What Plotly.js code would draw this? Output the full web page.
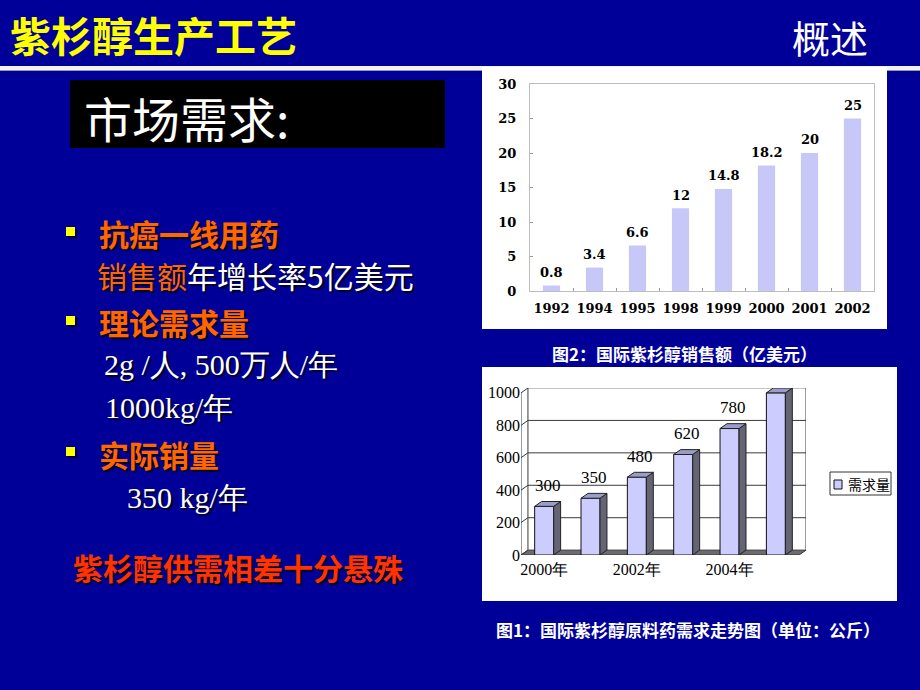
<!DOCTYPE html>
<html>
<head>
<meta charset="utf-8">
<script src="https://cdn.plot.ly/plotly-3.0.1.min.js"></script>
<style>html,body{margin:0;padding:0;background:#000099;}#chart{width:920px;height:690px;}</style>
</head>
<body>
<div id="chart"></div>
<script>
// ---- data ----
const salesYears = ['1992','1994','1995','1998','1999','2000','2001','2002'];
const salesValues = [0.8, 3.4, 6.6, 12, 14.8, 18.2, 20, 25];
const salesTicks = [0, 5, 10, 15, 20, 25, 30];
const demandYears = ['2000年','2001年','2002年','2003年','2004年','2005年'];
const demandValues = [300, 350, 480, 620, 780, 1000];
const demandTicks = [0, 200, 400, 600, 800, 1000];
const demandName = '需求量';

// ---- layout helpers ----
const W = 920, H = 690;
const px = x => x / W;
const py = y => 1 - y / H;
const CJK = 'Noto Sans CJK SC';
const SERIF = 'Liberation Serif';

// 3D depth (data units on chart 2)
const dx = 0.15, dy = 30, bw = 0.41;
const idx = demandYears.map((_, i) => i);
const xMin = -0.5, xMax = demandYears.length - 0.5;
const yTop = demandTicks[demandTicks.length - 1];

// side and top faces of the 3D bars
const sideX = [], sideY = [], topX = [], topY = [];
idx.forEach((i, k) => {
  const v = demandValues[k];
  const r = i + bw / 2, l = i - bw / 2;
  sideX.push(r, r + dx, r + dx, r, r, null);
  sideY.push(0, dy, v + dy, v, 0, null);
  topX.push(l, r, r + dx, l + dx, l, null);
  topY.push(v, v, v + dy, v + dy, v, null);
});

const traces = [
  {
    type: 'bar', x: salesYears, y: salesValues, xaxis: 'x', yaxis: 'y',
    width: 0.4, marker: {color: '#c8c8f8'}, showlegend: false,
    hovertemplate: '%{x}: %{y}<extra></extra>'
  },
  {
    type: 'bar', name: demandName, x: idx, y: demandValues, xaxis: 'x2', yaxis: 'y2',
    width: bw, marker: {color: '#ccccff', line: {color: '#111', width: 1}}, showlegend: false,
    customdata: demandYears, hovertemplate: '%{customdata}: %{y}<extra></extra>'
  },
  {
    type: 'scatter', mode: 'lines', x: sideX, y: sideY, xaxis: 'x2', yaxis: 'y2',
    fill: 'toself', fillcolor: '#646474', line: {color: '#222', width: 1},
    showlegend: false, hoverinfo: 'skip'
  },
  {
    type: 'scatter', mode: 'lines', x: topX, y: topY, xaxis: 'x2', yaxis: 'y2',
    fill: 'toself', fillcolor: '#9c9cc8', line: {color: '#222', width: 1},
    showlegend: false, hoverinfo: 'skip'
  }
];

// ---- shapes ----
const shapes = [
  // header band
  {type: 'rect', xref: 'paper', yref: 'paper', x0: 0, x1: 1, y0: py(66), y1: py(71), fillcolor: '#f2f2f2', line: {width: 0}, layer: 'below'},
  {type: 'line', xref: 'paper', yref: 'paper', x0: 0, x1: 1, y0: py(70.5), y1: py(70.5), line: {color: '#9a9ab8', width: 1}, layer: 'below'},
  // black title box
  {type: 'rect', xref: 'paper', yref: 'paper', x0: px(70), x1: px(445), y0: py(80), y1: py(148), fillcolor: '#000000', line: {width: 0}, layer: 'below'},
  // chart boxes
  {type: 'rect', xref: 'paper', yref: 'paper', x0: px(482), x1: px(887), y0: py(67), y1: py(329), fillcolor: '#ffffff', line: {width: 0}, layer: 'below'},
  {type: 'rect', xref: 'paper', yref: 'paper', x0: px(482), x1: px(897), y0: py(367), y1: py(601), fillcolor: '#ffffff', line: {width: 0}, layer: 'below'},
  // legend (chart 2)
  {type: 'rect', xref: 'paper', yref: 'paper', x0: px(830), x1: px(891), y0: py(472), y1: py(495), fillcolor: '#ffffff', line: {color: '#333', width: 1}},
  {type: 'rect', xref: 'paper', yref: 'paper', x0: px(834), x1: px(842), y0: py(480), y1: py(489), fillcolor: '#ccccff', line: {color: '#111', width: 1}}
];
// bullets
[232, 321, 452].forEach(y => {
  shapes.push({type: 'rect', xref: 'paper', yref: 'paper', x0: px(68), x1: px(77), y0: py(y - 3), y1: py(y + 6), fillcolor: '#000033', line: {width: 0}});
  shapes.push({type: 'rect', xref: 'paper', yref: 'paper', x0: px(66), x1: px(75), y0: py(y - 5), y1: py(y + 4), fillcolor: '#ffff00', line: {width: 0}});
});
// chart 2 3D floor and walls
shapes.push({type: 'path', xref: 'x2', yref: 'y2', layer: 'below',
  path: `M ${xMin},0 L ${xMax},0 L ${xMax + dx},${dy} L ${xMin + dx},${dy} Z`,
  fillcolor: '#6c6c70', line: {color: '#333', width: 1}});
demandTicks.forEach(v => {
  if (v > 0) {
    shapes.push({type: 'line', xref: 'x2', yref: 'y2', layer: 'below', x0: xMin + dx, x1: xMax + dx, y0: v + dy, y1: v + dy, line: {color: v === yTop ? '#7f8f7f' : '#3a3a3a', width: 1}});
  }
  shapes.push({type: 'line', xref: 'x2', yref: 'y2', layer: 'below', x0: xMin, x1: xMin + dx, y0: v, y1: v + dy, line: {color: '#3a3a3a', width: 1}});
});
shapes.push({type: 'line', xref: 'x2', yref: 'y2', layer: 'below', x0: xMin, x1: xMin, y0: 0, y1: yTop, line: {color: '#3a3a3a', width: 1}});
shapes.push({type: 'line', xref: 'x2', yref: 'y2', layer: 'below', x0: xMin + dx, x1: xMin + dx, y0: dy, y1: yTop + dy, line: {color: '#3a3a3a', width: 1}});
shapes.push({type: 'line', xref: 'x2', yref: 'y2', layer: 'below', x0: xMax + dx, x1: xMax + dx, y0: dy, y1: yTop + dy, line: {color: '#3a3a3a', width: 1}});

// ---- annotations ----
const annotations = [];
function txt(text, x, y, size, color, opts) {
  annotations.push(Object.assign({
    xref: 'paper', yref: 'paper', x: px(x), y: py(y), xanchor: 'left', yanchor: 'middle',
    showarrow: false, text: text, font: {family: CJK, size: size, color: color}
  }, opts || {}));
}
const shadow = '2px 2px 1px #000022';
txt('紫杉醇生产工艺', 8, 34, 41, '#ffff00', {font: {family: CJK, size: 41, color: '#ffff00', weight: 'bold'}});
txt('概述', 790, 37, 38, '#ffffff');
txt('市场需求:', 82, 117, 48, '#ffffff');
txt('抗癌一线用药', 97, 233, 30, '#ff6600', {font: {family: CJK, size: 30, color: '#ff6600', weight: 'bold', shadow: shadow}});
txt('<span style="color:#ff6600">销售额</span>年增长率5亿美元', 95, 275, 30, '#ffffff', {font: {family: CJK, size: 30, color: '#ffffff', shadow: shadow}});
txt('理论需求量', 97, 322, 30, '#ff6600', {font: {family: CJK, size: 30, color: '#ff6600', weight: 'bold', shadow: shadow}});
txt('2g /人, 500万人/年', 102, 364, 30, '#ffffff', {font: {family: SERIF, size: 30, color: '#ffffff', shadow: shadow}});
txt('1000kg/年', 103, 407, 30, '#ffffff', {font: {family: SERIF, size: 30, color: '#ffffff', shadow: shadow}});
txt('实际销量', 97, 454, 30, '#ff6600', {font: {family: CJK, size: 30, color: '#ff6600', weight: 'bold', shadow: shadow}});
txt('350 kg/年', 125, 497, 30, '#ffffff', {font: {family: SERIF, size: 30, color: '#ffffff', shadow: shadow}});
txt('紫杉醇供需相差十分悬殊', 71, 567, 30, '#ff3300', {font: {family: CJK, size: 30, color: '#ff3300', weight: 'bold', shadow: shadow}});
txt('图2：国际紫杉醇销售额（亿美元）', 684, 353, 17, '#ffffff', {xanchor: 'center', font: {family: CJK, size: 17, color: '#ffffff', weight: 'bold'}});
txt('图1：国际紫杉醇原料药需求走势图（单位：公斤）', 688, 629, 17, '#ffffff', {xanchor: 'center', font: {family: CJK, size: 17, color: '#ffffff', weight: 'bold'}});
txt(demandName, 846, 484, 14, '#000000');

// value labels chart 1
salesValues.forEach((v, i) => {
  annotations.push({xref: 'x', yref: 'y', x: i, y: v, yshift: 13, yanchor: 'middle', showarrow: false,
    text: String(v), font: {family: 'DejaVu Serif', size: 13, color: '#000', weight: 'bold'}});
});
// value labels chart 2
demandValues.forEach((v, i) => {
  annotations.push({xref: 'x2', yref: 'y2', x: idx[i] + dx / 2, y: Math.min(v + 130, 1050), yanchor: 'middle', showarrow: false,
    text: String(v), font: {family: SERIF, size: 17, color: '#000'}});
});

const layout = {
  width: W, height: H, autosize: false,
  margin: {l: 0, r: 0, t: 0, b: 0},
  paper_bgcolor: '#000099', plot_bgcolor: '#ffffff',
  showlegend: false,
  xaxis: {
    domain: [px(530), px(874)], anchor: 'y', type: 'category', tickangle: 0,
    showline: true, mirror: true, linecolor: '#bdbdbd', linewidth: 1,
    ticks: 'inside', tickson: 'boundaries', ticklen: 3, tickcolor: '#999',
    showgrid: false, zeroline: false, ticklabelstandoff: 5,
    tickfont: {family: 'DejaVu Serif', size: 13, color: '#000', weight: 'bold'}
  },
  yaxis: {
    domain: [py(291), py(84)], anchor: 'x', range: [0, 30],
    tickvals: salesTicks, showline: true, mirror: true, linecolor: '#bdbdbd', linewidth: 1,
    ticks: 'inside', ticklen: 3, tickcolor: '#999', showgrid: false, zeroline: false,
    ticklabelstandoff: 10,
    tickfont: {family: 'DejaVu Serif', size: 13, color: '#000', weight: 'bold'}
  },
  xaxis2: {
    domain: [px(521), px(806)], anchor: 'y2', range: [xMin, xMax + dx],
    tickvals: idx.filter(i => i % 2 === 0), ticktext: demandYears.filter((_, i) => i % 2 === 0),
    showline: false, showgrid: false, zeroline: false, ticks: '', ticklabelstandoff: 3, tickangle: 0,
    tickfont: {family: SERIF, size: 16, color: '#000'}
  },
  yaxis2: {
    domain: [py(555), py(388)], anchor: 'x2', range: [0, yTop + dy],
    tickvals: demandTicks, showline: false, showgrid: false, zeroline: false,
    ticks: '', ticklabelstandoff: 0,
    tickfont: {family: SERIF, size: 16, color: '#000'}
  },
  shapes: shapes,
  annotations: annotations
};

Plotly.newPlot('chart', traces, layout, {displayModeBar: false, responsive: false});
</script>
</body>
</html>
